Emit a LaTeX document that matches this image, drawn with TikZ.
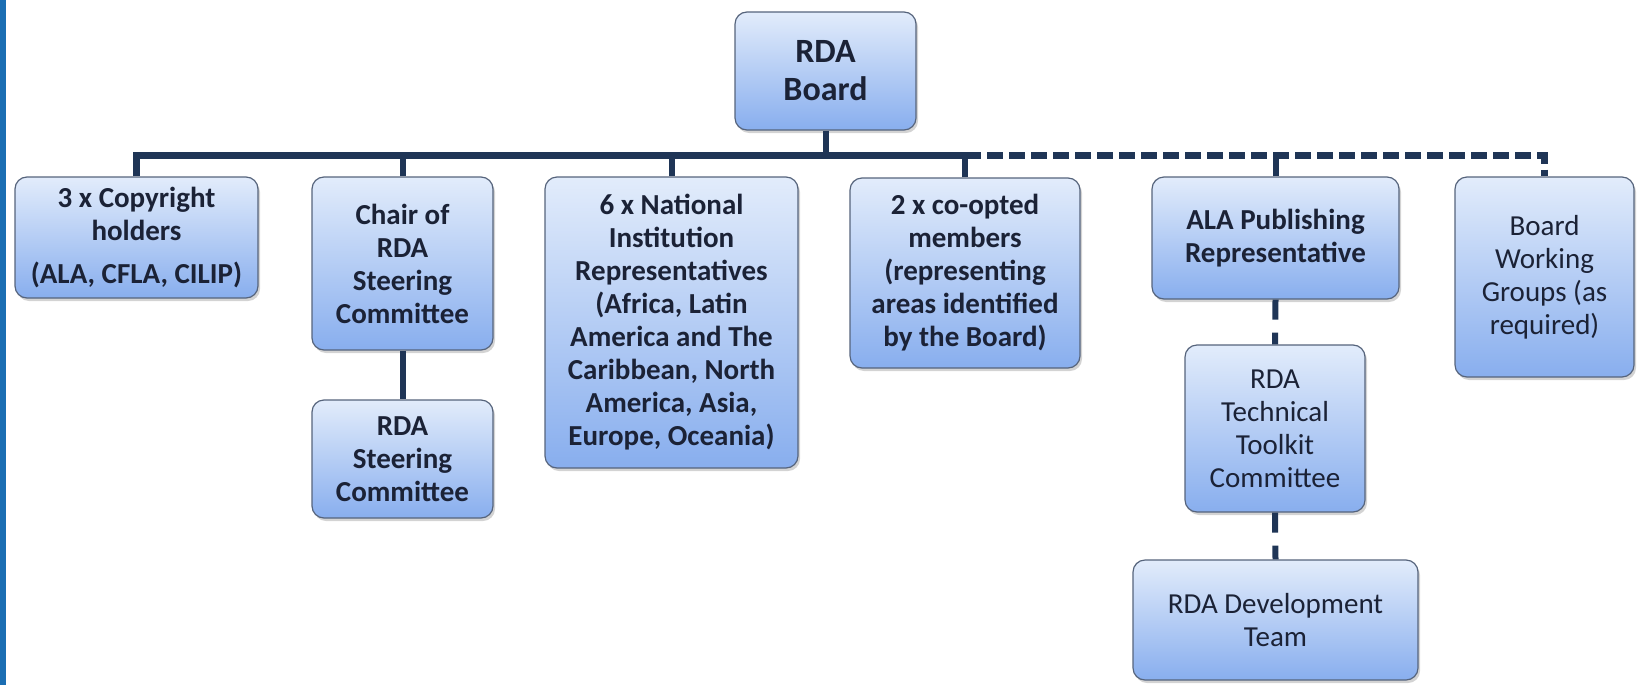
\documentclass[tikz,border=0pt]{standalone}
\usepackage{fontspec}
\setmainfont{Carlito}
\usetikzlibrary{shadows}
\definecolor{linkblue}{HTML}{1F3556}
\definecolor{barblue}{HTML}{1B6EB3}
\definecolor{boxtop}{HTML}{E2ECFB}
\definecolor{boxbottom}{HTML}{88AEEE}
\definecolor{boxedge}{HTML}{56647C}
\definecolor{boxtext}{HTML}{1B2236}
\tikzset{
    orgbox/.style={
        rectangle,
        rounded corners=6pt,
        draw=boxedge,
        line width=0.6pt,
        top color=boxtop,
        bottom color=boxbottom,
        drop shadow={shadow xshift=1pt,shadow yshift=-1.5pt,opacity=0.35},
        text=boxtext,
        align=center,
        inner sep=0pt,
        font=\fontsize{14.5}{16.5}\selectfont
    },
    strong/.style={
        font=\fontsize{14.5}{16.5}\selectfont\bfseries
    },
    headtext/.style={
        font=\fontsize{17}{19}\selectfont\bfseries
    },
    bus/.style={
        draw=linkblue,
        line width=3.5pt
    },
    drop/.style={
        draw=linkblue,
        line width=3pt
    },
    busdash/.style={
        bus,
        dash pattern=on 8pt off 3pt
    },
    dropdash/.style={
        drop,
        dash pattern=on 10pt off 6.5pt
    }
}

\begin{document}
\begin{tikzpicture}[x=0.5pt,y=-0.5pt]
\useasboundingbox (0,0) rectangle (1637,685);
\fill[barblue] (0,0) rectangle (6,685);
\coordinate (busl) at (0,155);
\node[orgbox,headtext,minimum width=90.5pt,minimum height=59pt] (board) at (825.5,71) {RDA\\Board};
\node[orgbox,strong,minimum width=121.5pt,minimum height=60.5pt] (copyright) at (136.5,237.5) {3 x Copyright\\holders\\[5pt](ALA, CFLA, CILIP)};
\node[orgbox,strong,minimum width=90.5pt,minimum height=86.5pt] (chair) at (402.5,263.5) {Chair of\\RDA\\Steering\\Committee};
\node[orgbox,strong,minimum width=90.5pt,minimum height=59pt] (steering) at (402.5,459) {RDA\\Steering\\Committee};
\node[orgbox,strong,minimum width=126.5pt,minimum height=145.5pt] (national) at (671.5,322.5) {6 x National\\Institution\\Representatives\\(Africa, Latin\\America and The\\Caribbean, North\\America, Asia,\\Europe, Oceania)};
\node[orgbox,strong,minimum width=115pt,minimum height=95pt] (coopted) at (965,273) {2 x co-opted\\members\\(representing\\areas identified\\by the Board)};
\node[orgbox,strong,minimum width=123.5pt,minimum height=61pt] (alapub) at (1275.5,238) {ALA Publishing\\Representative};
\node[orgbox,minimum width=90pt,minimum height=83.5pt] (toolkit) at (1275,428.5) {RDA\\Technical\\Toolkit\\Committee};
\node[orgbox,minimum width=142.5pt,minimum height=60pt] (devteam) at (1275.5,620) {RDA Development\\Team};
\node[orgbox,minimum width=89.5pt,minimum height=100pt] (working) at (1544.5,277) {Board\\Working\\Groups (as\\required)};
\draw[busdash] (coopted.north |- busl) -| (working.north);
\draw[bus] (copyright.north) |- (coopted.north |- busl);
\draw[drop] (board.south) -- (board.south |- busl);
\draw[drop] (chair.north) -- (chair.north |- busl);
\draw[drop] (national.north) -- (national.north |- busl);
\draw[drop] (coopted.north) -- (coopted.north |- busl);
\draw[drop] (alapub.north) -- (alapub.north |- busl);
\draw[drop] (chair) -- (steering);
\draw[dropdash] (alapub.south) -- (toolkit.north);
\draw[dropdash] (toolkit.south) -- (devteam.north);
\end{tikzpicture}
\end{document}
